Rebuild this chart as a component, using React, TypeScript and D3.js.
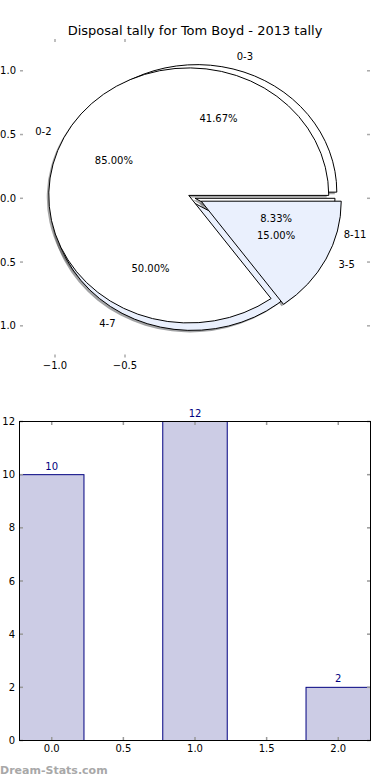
import React from 'react';
import * as d3 from 'd3';

const title = 'Disposal tally for Tom Boyd - 2013 tally';

// back pie (disposal buckets), front pie (kick buckets)
const backLabels = ['0-3', '4-7', '8-11'];
const backValues = [10, 12, 2];
const backExplode = [0.05, 0.035, 0];
const frontLabels = ['0-2', '3-5'];
const frontValues = [17, 3];
const frontExplode = [0.05, 0.05];
const wedgeColors = ['#ffffff', '#eaf0fd'];

const pieYTicks = [1.0, 0.5, 0.0, -0.5, -1.0];
const pieXTicks = [-1.0, -0.5];

const barCats = [0, 1, 2];
const barValues = [10, 12, 2];
const barYTicks = [0, 2, 4, 6, 8, 10, 12];
const barXTicks = [0, 0.5, 1, 1.5, 2];

const FONT = 'DejaVu Sans, sans-serif';
const fmtTick = (v: number) => d3.format('.1f')(v).replace('-', '\u2212');

interface Slice {
  label: string;
  color: string;
  path: string;
  ox: number;
  oy: number;
  cos: number;
  sin: number;
  pct: number;
}

const px = d3.scaleLinear().domain([-1.25, 1.25]).range([20, 370]);
const py = d3.scaleLinear().domain([-1.25, 1.25]).range([357.7, 38.9]);
const sx = px(1) - px(0);
const sy = py(0) - py(1);

const arc = d3.arc<d3.PieArcDatum<number>>().innerRadius(0).outerRadius(1);
const pie = d3.pie<number>().sort(null).startAngle(Math.PI / 2).endAngle(Math.PI / 2 - 2 * Math.PI);

function makeSlices(labels: string[], values: number[], explode: number[]): Slice[] {
  const total = d3.sum(values);
  return pie(values).map((d, i) => {
    const mid = (d.startAngle + d.endAngle) / 2;
    const cos = Math.sin(mid);
    const sin = Math.cos(mid);
    return {
      label: labels[i],
      color: wedgeColors[i % wedgeColors.length],
      path: arc(d) as string,
      ox: explode[i] * cos,
      oy: explode[i] * sin,
      cos,
      sin,
      pct: (values[i] / total) * 100,
    };
  });
}

const back = makeSlices(backLabels, backValues, backExplode);
const front = makeSlices(frontLabels, frontValues, frontExplode);
const all = [...back, ...front];

const shade = (c: string) => {
  const r = d3.rgb(c);
  return `rgba(${r.r * 0.3},${r.g * 0.3},${r.b * 0.3},0.5)`;
};

const bx = d3.scaleLinear().domain([-0.225, 2.225]).range([19.5, 370.5]);
const by = d3.scaleLinear().domain([0, 12]).range([740.5, 421.5]);
const barW = 0.45;

const App: React.FC = () => {
  return (
    <svg width={390} height={780} style={{ position: 'absolute', left: 0, top: 0, background: '#fff' }} fontFamily={FONT}>
      <rect width={390} height={780} fill="#fff" />
      <text x={195} y={34.5} textAnchor="middle" fontSize={13}>{title}</text>

      {/* pie axis ticks */}
      {pieYTicks.map(t => (
        <g key={'py' + t}>
          <line x1={20} x2={23} y1={py(t)} y2={py(t)} stroke="#aaa" strokeWidth={1.5} />
          <line x1={367} x2={370} y1={py(t)} y2={py(t)} stroke="#aaa" strokeWidth={1.5} />
          <text x={16} y={py(t)} dy="0.35em" textAnchor="end" fontSize={10}>{fmtTick(t)}</text>
        </g>
      ))}
      {pieXTicks.map(t => (
        <g key={'px' + t}>
          <line x1={px(t)} x2={px(t)} y1={39} y2={42} stroke="#aaa" strokeWidth={1.5} />
          <line x1={px(t)} x2={px(t)} y1={354.5} y2={357.5} stroke="#aaa" strokeWidth={1.5} />
          <text x={px(t)} y={369} textAnchor="middle" fontSize={10}>{fmtTick(t)}</text>
        </g>
      ))}

      {/* shadows */}
      {all.map((s, i) => (
        <g key={'sh' + i} transform={`translate(${px(s.ox) - 2},${py(s.oy) + 2}) scale(${sx},${sy})`}>
          <path d={s.path} fill={shade(s.color)} stroke="none" />
        </g>
      ))}
      {/* wedges */}
      {all.map((s, i) => (
        <g key={'w' + i} transform={`translate(${px(s.ox)},${py(s.oy)}) scale(${sx},${sy})`}>
          <path d={s.path} fill={s.color} stroke="#000" strokeWidth={1} vectorEffect="non-scaling-stroke" strokeLinejoin="miter" />
        </g>
      ))}
      {/* labels */}
      {all.map((s, i) => (
        <g key={'t' + i} fontSize={10}>
          <text
            x={px(s.ox + 1.1 * s.cos)}
            y={py(s.oy + 1.1 * s.sin)}
            dy="0.35em"
            textAnchor={s.cos > 0 ? 'start' : 'end'}
          >{s.label}</text>
          <text
            x={px(s.ox + 0.6 * s.cos)}
            y={py(s.oy + 0.6 * s.sin)}
            dy="0.35em"
            textAnchor="middle"
          >{s.pct.toFixed(2)}%</text>
        </g>
      ))}

      {/* bar chart */}
      {barCats.map((c, i) => (
        <g key={'b' + c}>
          <rect
            x={bx(c - barW / 2)}
            y={by(barValues[i])}
            width={bx(c + barW / 2) - bx(c - barW / 2)}
            height={by(0) - by(barValues[i])}
            fill="#ccccE5"
            stroke="#000080"
            strokeWidth={1}
          />
          <text x={bx(c)} y={by(barValues[i]) - 5} textAnchor="middle" fontSize={10} fill="#000080">{barValues[i]}</text>
        </g>
      ))}
      {barYTicks.map(t => (
        <g key={'by' + t}>
          <line x1={19.5} x2={23} y1={by(t)} y2={by(t)} stroke="#999" strokeWidth={1.5} />
          <line x1={367} x2={370.5} y1={by(t)} y2={by(t)} stroke="#999" strokeWidth={1.5} />
          <text x={15} y={by(t)} dy="0.35em" textAnchor="end" fontSize={10}>{t}</text>
        </g>
      ))}
      {barXTicks.map(t => (
        <g key={'bx' + t}>
          <line x1={bx(t)} x2={bx(t)} y1={421.5} y2={425} stroke="#999" strokeWidth={1.5} />
          <line x1={bx(t)} x2={bx(t)} y1={737} y2={740.5} stroke="#999" strokeWidth={1.5} />
          <text x={bx(t)} y={752} textAnchor="middle" fontSize={10}>{t.toFixed(1)}</text>
        </g>
      ))}
      <rect x={19.5} y={421.5} width={351} height={319} fill="none" stroke="#000" strokeWidth={1} />

      <text x={0} y={774} fontSize={11} fontWeight="bold" fill="#a8a8a8">Dream-Stats.com</text>
    </svg>
  );
};

export default App;
